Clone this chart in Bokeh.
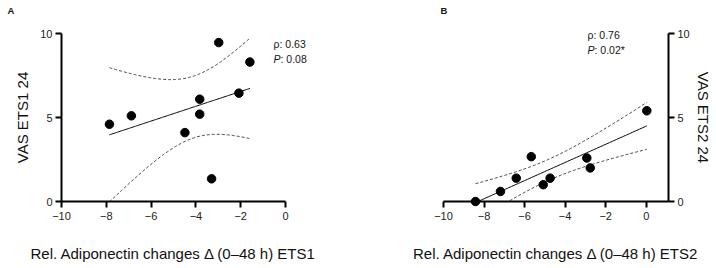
import numpy as np
from bokeh.plotting import figure
from bokeh.layouts import row
from bokeh.models import Range1d, FixedTicker, ColumnDataSource
from bokeh.core.properties import value
from bokeh.embed import file_html
from bokeh.resources import INLINE

# ---- data ----
a_x = [-7.86, -6.88, -4.49, -3.83, -3.83, -3.30, -2.98, -2.08, -1.59]
a_y = [4.60, 5.10, 4.10, 6.09, 5.20, 1.35, 9.46, 6.45, 8.30]
b_x = [-8.42, -7.19, -6.41, -5.67, -5.08, -4.74, -2.93, -2.76, 0.03]
b_y = [0.00, 0.60, 1.39, 2.67, 1.00, 1.39, 2.59, 2.00, 5.40]
x_ticks = [-10, -8, -6, -4, -2, 0]
y_ticks = [0, 5, 10]
a_stats = ("0.63", "0.08")
b_stats = ("0.76", "0.02*")
T_975_DF7 = 2.3646  # t quantile for 95% CI, n = 9

FONT = "Liberation Sans"


def fit_ci(xs, ys):
    x = np.asarray(xs, float)
    y = np.asarray(ys, float)
    n = len(x)
    mx, my = x.mean(), y.mean()
    sxx = ((x - mx) ** 2).sum()
    slope = ((x - mx) * (y - my)).sum() / sxx
    icpt = my - slope * mx
    res = y - (icpt + slope * x)
    s = np.sqrt((res ** 2).sum() / (n - 2))
    gx = np.linspace(x.min(), x.max(), 120)
    gy = icpt + slope * gx
    half = T_975_DF7 * s * np.sqrt(1.0 / n + (gx - mx) ** 2 / sxx)
    return gx, gy, gy - half, gy + half


def add_text(p, ax, ay, dx, dy, text, size, style="normal"):
    # text anchored at the frame's top-left corner, shifted by screen pixels
    r = p.text(x=[ax], y=[ay], text=[text], x_offset=dx, y_offset=dy,
               text_font=value(FONT), text_font_size=value(size),
               text_font_style=style, text_baseline="middle", text_align="left",
               text_color="#161616")
    r.level = "overlay"


def panel(xs, ys, xr, yloc, xlabel, ylabel, letter, stats, borders, fw, txt_pos, ylab_standoff):
    bl, br = borders
    p = figure(frame_width=fw, frame_height=168,
               min_border_left=bl, min_border_right=br,
               min_border_top=33, min_border_bottom=67,
               x_range=Range1d(*xr), y_range=Range1d(0, 10),
               y_axis_location=yloc,
               output_backend="svg", toolbar_location=None,
               background_fill_color="white", border_fill_color="white")
    p.outline_line_color = None
    p.xgrid.visible = False
    p.ygrid.visible = False

    gx, gy, lo, hi = fit_ci(xs, ys)
    p.line(gx, gy, line_color="black", line_width=1)
    p.line(gx, lo, line_color="#333333", line_width=0.9, line_dash="3 2")
    p.line(gx, hi, line_color="#333333", line_width=0.9, line_dash="3 2")
    src = ColumnDataSource(dict(x=xs, y=ys))
    r = p.scatter("x", "y", source=src, size=8.5, fill_color="black", line_color="black")
    r.level = "overlay"

    for ax in (p.xaxis[0], p.yaxis[0]):
        ax.axis_line_width = 2
        ax.axis_line_color = "black"
        ax.major_tick_line_width = 2
        ax.major_tick_line_color = "black"
        ax.major_tick_in = 0
        ax.major_tick_out = 6
        ax.minor_tick_line_color = None
        ax.major_label_text_font = FONT
        ax.major_label_text_font_size = "11px"
        ax.major_label_text_color = "#222222"
        ax.axis_label_text_font = FONT
        ax.axis_label_text_font_size = "15px"
        ax.axis_label_text_font_style = "normal"
        ax.axis_label_text_color = "#111111"
    p.xaxis.ticker = FixedTicker(ticks=x_ticks)
    p.yaxis.ticker = FixedTicker(ticks=y_ticks)
    p.xaxis.axis_label = xlabel
    p.yaxis.axis_label = ylabel
    p.xaxis.major_label_standoff = 4
    p.yaxis.major_label_standoff = 3
    p.xaxis.axis_label_standoff = 22
    p.yaxis.axis_label_standoff = ylab_standoff

    ax0, ay0 = xr[0], 10
    lx, ly, sx, sy = txt_pos
    add_text(p, ax0, ay0, lx, ly, letter, "9.5px", "bold")
    add_text(p, ax0, ay0, sx, sy, "\u03c1: " + stats[0], "10.5px")
    add_text(p, ax0, ay0, sx, sy + 15.5, "P", "10.5px", "italic")
    add_text(p, ax0, ay0, sx + 7, sy + 15.5, ": " + stats[1], "10.5px")
    return p


pa = panel(a_x, a_y, (-10, 0), "left",
           "Rel. Adiponectin changes \u0394 (0\u201348 h) ETS1", "VAS ETS1 24",
           "A", a_stats, (61, 73), 224, (-54, -23, 212, 10), 6)
pb = panel(b_x, b_y, (-10, 1.1), "right",
           "Rel. Adiponectin changes \u0394 (0\u201348 h) ETS2", "VAS ETS2 24",
           "B", b_stats, (85, 48), 225, (-3, -23, 144, 1), 2)

layout = row(pa, pb, spacing=0)
open("out.html", "w").write(file_html(layout, INLINE))
